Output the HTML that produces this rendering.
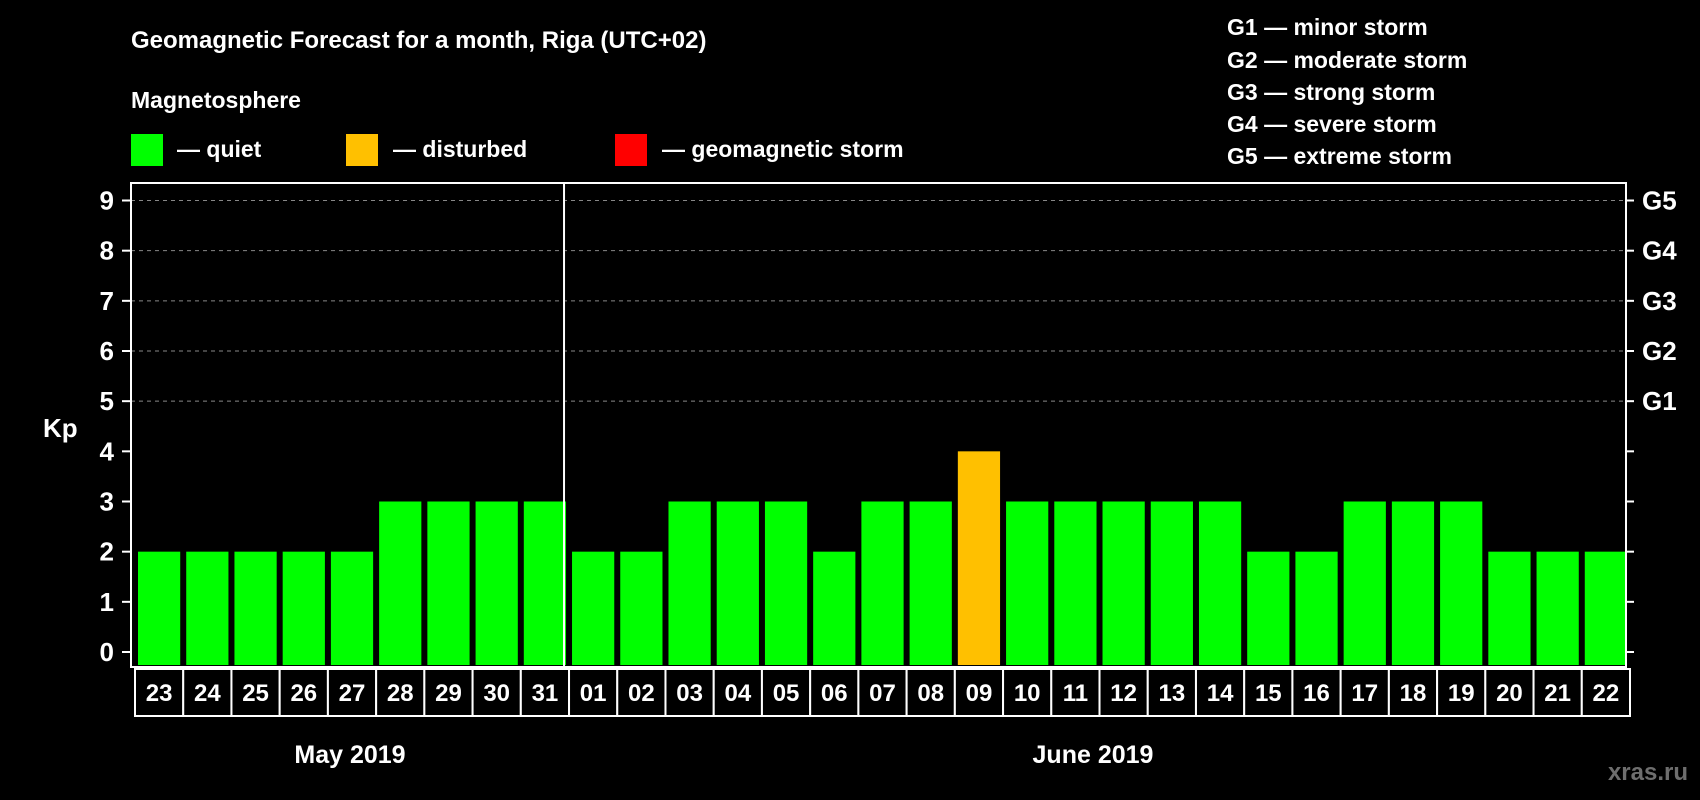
<!DOCTYPE html>
<html><head><meta charset="utf-8"><style>
html,body{margin:0;padding:0;background:#000;}
svg{display:block;font-family:"Liberation Sans",sans-serif;font-weight:bold;}
</style></head><body>
<svg id="chart" width="1700" height="800" viewBox="0 0 1700 800" xmlns="http://www.w3.org/2000/svg">
<rect width="1700" height="800" fill="#000"/>
<text x="131" y="48" fill="#fff" font-size="24">Geomagnetic Forecast for a month, Riga (UTC+02)</text>
<text x="131" y="108" fill="#fff" font-size="23">Magnetosphere</text>
<g><rect x="131" y="134" width="32" height="32" fill="#00ff00"/><text x="177" y="157" fill="#fff" font-size="23">— quiet</text></g>
<g><rect x="346" y="134" width="32" height="32" fill="#ffc000"/><text x="393" y="157" fill="#fff" font-size="23">— disturbed</text></g>
<g><rect x="615" y="134" width="32" height="32" fill="#ff0000"/><text x="662" y="157" fill="#fff" font-size="23">— geomagnetic storm</text></g>
<g fill="#fff" font-size="23">
<text x="1227" y="35">G1 — minor storm</text>
<text x="1227" y="68">G2 — moderate storm</text>
<text x="1227" y="100">G3 — strong storm</text>
<text x="1227" y="132">G4 — severe storm</text>
<text x="1227" y="164">G5 — extreme storm</text>
</g>
<text x="43" y="437" fill="#fff" font-size="26">Kp</text>
<g id="grid"></g><g id="bars"></g><g id="axes"></g><g id="xlabels"></g>
<text x="350" y="763" fill="#fff" font-size="25" text-anchor="middle">May 2019</text>
<text x="1093" y="763" fill="#fff" font-size="25" text-anchor="middle">June 2019</text>
<text x="1688" y="780" fill="#6e6e6e" font-size="24" text-anchor="end">xras.ru</text>
</svg>
<script>
const days = ["23","24","25","26","27","28","29","30","31","01","02","03","04","05","06","07","08","09","10","11","12","13","14","15","16","17","18","19","20","21","22"];
const kpValues = [2,2,2,2,2,3,3,3,3,2,2,3,3,3,2,3,3,4,3,3,3,3,3,2,2,3,3,3,2,2,2];
const yTicks = [0,1,2,3,4,5,6,7,8,9];
const gLabels = ["G1","G2","G3","G4","G5"];
const gLevels = [5,6,7,8,9];
const monthBreakIndex = 9;

const NS = "http://www.w3.org/2000/svg";
const L = 131, R = 1626, T = 183, B = 667;
const y0 = 652, y9 = 200.5;
function yS(v){ return y0 - (y0 - y9) * v / 9; }
const slot = (R - L) / days.length;
function xS(i){ return L + slot * i; }
function mk(tag, attrs, parent){ const e = document.createElementNS(NS, tag); for (const k in attrs) e.setAttribute(k, attrs[k]); parent.appendChild(e); return e; }

const grid = document.getElementById('grid');
gLevels.forEach(v => {
  const l = mk('line', {x1:L, x2:R, y1:yS(v), y2:yS(v), stroke:'#888', 'stroke-width':1, 'stroke-dasharray':'4 4'}, grid);
  
  
});

const bars = document.getElementById('bars');
kpValues.forEach((v, i) => {
  const col = v >= 5 ? '#ff0000' : (v >= 4 ? '#ffc000' : '#00ff00');
  const top = yS(v);
  const r = mk('rect', {x:xS(i)+7, y:top, width:slot-6, height:B - 2 - top, fill:col}, bars);
  
  
});

const axes = document.getElementById('axes');
const frame = mk('rect', {x:L, y:T, width:R-L, height:B-T, fill:'none', stroke:'#fff', 'stroke-width':2}, axes);


const div = mk('line', {x1:xS(monthBreakIndex)-1, x2:xS(monthBreakIndex)-1, y1:T, y2:B, stroke:'#fff', 'stroke-width':2}, axes);


yTicks.forEach(v => {
  mk('line', {x1:L-9, x2:L, y1:yS(v), y2:yS(v), stroke:'#fff', 'stroke-width':2}, axes);
  mk('line', {x1:R, x2:R+8, y1:yS(v), y2:yS(v), stroke:'#fff', 'stroke-width':2}, axes);
  const t = mk('text', {x:114, y:yS(v)+9, fill:'#fff', 'font-size':26, 'text-anchor':'end'}, axes);
  
  
  t.textContent = v;
});
gLabels.forEach((g, i) => {
  const t = mk('text', {x:1642, y:yS(gLevels[i])+9, fill:'#fff', 'font-size':26}, axes);
  
  
  t.textContent = g;
});

const xl = document.getElementById('xlabels');
days.forEach((d, i) => {
  const bx = mk('rect', {x:xS(i)+4, y:669, width:slot, height:47, fill:'#000', stroke:'#fff', 'stroke-width':2}, xl);
  
  
  const t = mk('text', {x:xS(i)+4+slot/2, y:701, fill:'#fff', 'font-size':24, 'text-anchor':'middle'}, xl);
  
  
  t.textContent = d;
});
</script>
</body></html>
